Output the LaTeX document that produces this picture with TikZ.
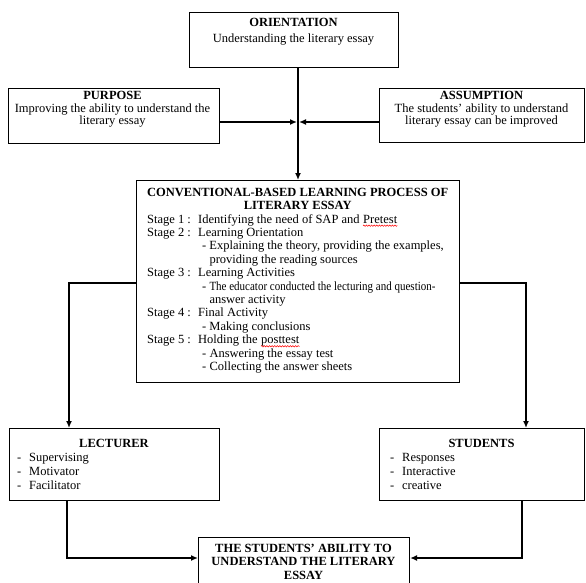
\documentclass[tikz,border=0pt]{standalone}
\usepackage{fontspec}
\setmainfont{Liberation Serif}
\usetikzlibrary{arrows.meta,decorations.pathmorphing}
\newcommand\redwave[1]{\tikz[baseline=(wv.base), x=1pt, y=1pt]{\node[inner sep=0pt, anchor=base] (wv) {#1};
  \draw[red, line width=0.5pt, decorate, decoration={snake, amplitude=0.7pt, segment length=2.6pt}] ([yshift=-2.6pt]wv.base west) -- ([yshift=-2.6pt]wv.base east);}}
\tikzset{
  box/.style={draw=black, line width=1.1pt, inner sep=0pt, fill=white},
  txt/.style={inner sep=0pt, text=black},
  conn/.style={line width=2pt, -{Latex[length=7pt,width=6pt]}},
}
\begin{document}
\begin{tikzpicture}[x=1pt, y=-1pt]
\useasboundingbox (0,0) rectangle (586,583);
\fill[white] (0,0) rectangle (586,583);
\clip (0,0) rectangle (586,583);

% boxes
\node[box, anchor=north west, minimum width=209pt, minimum height=55pt] (orient) at (189,12) {};
\node[box, anchor=north west, minimum width=211pt, minimum height=55pt] (purpose) at (8,88) {};
\node[box, anchor=north west, minimum width=205pt, minimum height=54pt] (assume) at (379,88) {};
\node[box, anchor=north west, minimum width=323pt, minimum height=202pt] (proc) at (136,180) {};
\node[box, anchor=north west, minimum width=210pt, minimum height=72pt] (lect) at (9,428) {};
\node[box, anchor=north west, minimum width=205pt, minimum height=72pt] (stud) at (379,428) {};
\node[box, anchor=north west, minimum width=211pt, minimum height=60pt] (result) at (198,537) {};

% texts
\node[txt, anchor=north, align=center, font=\fontsize{12.5}{16}\selectfont] (orienttext) at (293.5,17.8)
  {\textbf{ORIENTATION}\\Understanding the literary essay};
\node[txt, anchor=north, align=center, font=\fontsize{12.5}{12.5}\selectfont] (purposetext) at (112.5,91.5)
  {\textbf{PURPOSE}\\Improving the ability to understand the\\literary essay};
\node[txt, anchor=north, align=center, font=\fontsize{12.5}{12.5}\selectfont] (assumetext) at (481.5,91.5)
  {\textbf{ASSUMPTION}\\The students' ability to understand\\literary essay can be improved};

\node[txt, anchor=north west, align=left, font=\fontsize{12.5}{13.4}\selectfont] (proctext) at (141,187.8) {%
\makebox[313pt][c]{\textbf{CONVENTIONAL-BASED LEARNING PROCESS OF}}\\
\makebox[313pt][c]{\textbf{LITERARY ESSAY}}\\
\hspace*{6pt}\makebox[51pt][l]{Stage 1 :}Identifying the need of SAP and \redwave{Pretest}\\
\hspace*{6pt}\makebox[51pt][l]{Stage 2 :}Learning Orientation\\
\hspace*{61pt}\makebox[7.3pt][l]{-}Explaining the theory, providing the examples,\\
\hspace*{68.3pt}providing the reading sources\\
\hspace*{6pt}\makebox[51pt][l]{Stage 3 :}Learning Activities\\
\hspace*{61pt}\makebox[7.3pt][l]{-}\scalebox{0.88}[1]{The educator conducted the lecturing and question-}\\
\hspace*{68.3pt}answer activity\\
\hspace*{6pt}\makebox[51pt][l]{Stage 4 :}Final Activity\\
\hspace*{61pt}\makebox[7.3pt][l]{-}Making conclusions\\
\hspace*{6pt}\makebox[51pt][l]{Stage 5 :}Holding the \redwave{posttest}\\
\hspace*{61pt}\makebox[7.3pt][l]{-}Answering the essay test\\
\hspace*{61pt}\makebox[7.3pt][l]{-}Collecting the answer sheets};

\node[txt, anchor=north, font=\fontsize{12.5}{14}\selectfont] (lecthead) at (114,438.8) {\textbf{LECTURER}};
\node[txt, anchor=north west, align=left, font=\fontsize{12.5}{14}\selectfont] (lectitems) at (17,452.7)
  {\makebox[12pt][l]{-}Supervising\\\makebox[12pt][l]{-}Motivator\\\makebox[12pt][l]{-}Facilitator};
\node[txt, anchor=north, font=\fontsize{12.5}{14}\selectfont] (studhead) at (481.5,438.8) {\textbf{STUDENTS}};
\node[txt, anchor=north west, align=left, font=\fontsize{12.5}{14}\selectfont] (studitems) at (390,452.7)
  {\makebox[12pt][l]{-}Responses\\\makebox[12pt][l]{-}Interactive\\\makebox[12pt][l]{-}creative};
\node[txt, anchor=north, align=center, font=\fontsize{12.5}{13.3}\selectfont] (resulttext) at (303.5,544)
  {\textbf{THE STUDENTS' ABILITY TO}\\\textbf{UNDERSTAND THE LITERARY}\\\textbf{ESSAY}};

% connectors
\coordinate (j) at (298,122);
\coordinate (lturn) at (69,283);
\coordinate (sturn) at (526,283);
\coordinate (lbot) at (67,558);
\coordinate (sbot) at (522,558);

\draw[conn] (j |- orient.south) -- (j |- proc.north);
\draw[conn] (purpose.east |- j) -- ([xshift=-1pt]j);
\draw[conn] (assume.west |- j) -- ([xshift=1pt]j);
\draw[conn] (proc.west |- lturn) -- (lturn) -- (lturn |- lect.north);
\draw[conn] (proc.east |- sturn) -- (sturn) -- (sturn |- stud.north);
\draw[conn] (lbot |- lect.south) -- (lbot) -- (lbot -| result.west);
\draw[conn] (sbot |- stud.south) -- (sbot) -- (sbot -| result.east);
\end{tikzpicture}
\end{document}
